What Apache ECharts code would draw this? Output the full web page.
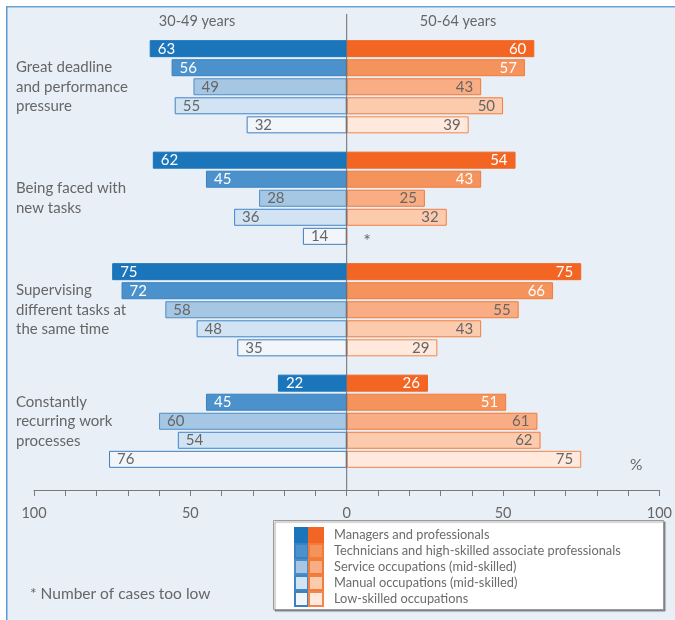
<!DOCTYPE html>
<html><head><meta charset="utf-8">
<script src="https://cdn.jsdelivr.net/npm/echarts@6/dist/echarts.min.js"></script>
<style>html,body{margin:0;padding:0;background:#fff}#c{width:675px;height:620px}</style>
</head><body><div id="c"></div>
<script>
// ---------- data ----------
const categories = [
  'Great deadline\nand performance\npressure',
  'Being faced with\nnew tasks',
  'Supervising\ndifferent tasks at\nthe same time',
  'Constantly\nrecurring work\nprocesses'
];
const occupations = [
  'Managers and professionals',
  'Technicians and high-skilled associate professionals',
  'Service occupations (mid-skilled)',
  'Manual occupations (mid-skilled)',
  'Low-skilled occupations'
];
const ageGroups = ['30-49 years', '50-64 years'];
// values per occupation, across the 4 categories
const managers3049    = [63, 62, 75, 22];
const technicians3049 = [56, 45, 72, 45];
const service3049     = [49, 28, 58, 60];
const manual3049      = [55, 36, 48, 54];
const low3049         = [32, 14, 35, 76];
const managers5064    = [60, 54, 75, 26];
const technicians5064 = [57, 43, 66, 51];
const service5064     = [43, 25, 55, 61];
const manual5064      = [50, 32, 43, 62];
const low5064         = [39, null, 29, 75];   // null = number of cases too low
const xTickLabels = [100, 50, 0, 50, 100];
const missingMark = '*';
const footnote = '* Number of cases too low';
const unitLabel = '%';

// ---------- styles ----------
const young = [managers3049, technicians3049, service3049, manual3049, low3049];
const older = [managers5064, technicians5064, service5064, manual5064, low5064];
const blueFill     = ['#1b75bb', '#4b91cb', '#a5c7e3', '#d2e3f3', '#f2f6fb'];
const blueBorder   = ['#1b75bb', '#3c80c0', '#4d8dc7', '#3f86c8', '#3f7fc0'];
const orangeFill   = ['#f26522', '#f5935c', '#f9ad84', '#fccbae', '#fee9dc'];
const orangeBorder = ['#f26522', '#f27b3a', '#f37a36', '#f27d3c', '#f2864b'];
const labelColors  = ['#ffffff', '#ffffff', '#666666', '#666666', '#666666'];
const FONT = 'Lato';
const TXT = '#666666';

const grid = {left: 34, right: 14, top: 31, height: 446};
const axisOffset = 13;

const series = [];
young.forEach((vals, i) => {
  series.push({
    type: 'bar', name: occupations[i] + ' (' + ageGroups[0] + ')', stack: 's' + i,
    stackStrategy: 'negative',
    barWidth: 17, barGap: '12%',
    data: vals.map(v => -v),
    itemStyle: {color: blueFill[i], borderColor: blueBorder[i], borderWidth: 1},
    label: {show: true, position: 'insideLeft', distance: 8, color: labelColors[i],
            fontSize: 15, fontFamily: FONT, formatter: p => Math.abs(p.value)},
    emphasis: {disabled: true}
  });
});
older.forEach((vals, i) => {
  series.push({
    type: 'bar', name: occupations[i], stack: 's' + i,
    stackStrategy: 'positive',
    barWidth: 17, barGap: '12%',
    data: vals.map(v => v == null ? {value: 0, label: {formatter: missingMark, position: 'right',
          distance: 16, color: TXT, fontSize: 18, offset: [0, 5]}} : v),
    itemStyle: {color: orangeFill[i], borderColor: orangeBorder[i], borderWidth: 1},
    label: {show: true, position: 'insideRight', distance: 8, color: labelColors[i],
            fontSize: 15, fontFamily: FONT, formatter: p => Math.abs(p.value)},
    emphasis: {disabled: true}
  });
});

const titleStyle = {fontSize: 14.5, fontWeight: 'normal', color: TXT, fontFamily: FONT};

const chart = echarts.init(document.getElementById('c'), null, {renderer: 'canvas'});
chart.setOption({
  animation: false,
  backgroundColor: '#e8eff7',
  textStyle: {fontFamily: FONT},
  title: [
    {text: ageGroups[0], left: 197, top: 14, textAlign: 'center', padding: 0, textStyle: titleStyle},
    {text: ageGroups[1], left: 458, top: 14, textAlign: 'center', padding: 0, textStyle: titleStyle},
    {text: unitLabel, left: 630, top: 457, padding: 0, textStyle: Object.assign({}, titleStyle, {fontSize: 15.5})},
    {text: footnote, left: 30, top: 586, padding: 0, textStyle: Object.assign({}, titleStyle, {fontSize: 15.5})}
  ],
  grid: grid,
  xAxis: {
    type: 'value', min: -100, max: 100, interval: 10, offset: axisOffset,
    axisLine: {show: true, lineStyle: {color: '#7a7a7a', width: 1}},
    axisTick: {show: true, length: 6, lineStyle: {color: '#7a7a7a'}},
    splitLine: {show: false},
    axisLabel: {color: TXT, fontSize: 14.5, fontFamily: FONT, margin: 16,
      formatter: v => {
        const idx = [-100, -50, 0, 50, 100].indexOf(v);
        return idx >= 0 ? String(xTickLabels[idx]) : '';
      }}
  },
  yAxis: {
    type: 'category', inverse: true, data: categories,
    axisLine: {show: false}, axisTick: {show: false}, splitLine: {show: false},
    axisLabel: {align: 'left', margin: 18, color: TXT, fontSize: 15, lineHeight: 19.5, fontFamily: FONT}
  },
  legend: [
    {orient: 'vertical', left: 294, top: 527, itemWidth: 13, itemHeight: 14, itemGap: 0,
     icon: 'rect', selectedMode: false, z: 10, padding: 0,
     data: series.slice(0, 5).map(s => s.name), formatter: () => '',
     textStyle: {fontSize: 12, lineHeight: 14}},
    {orient: 'vertical', left: 308, top: 527, itemWidth: 14, itemHeight: 14, itemGap: 0,
     icon: 'rect', selectedMode: false, z: 10, padding: 0,
     data: occupations,
     textStyle: {fontSize: 12.8, lineHeight: 14, color: '#6b6b6b', fontFamily: FONT, padding: [0, 0, 0, 6]}}
  ],
  series: series
});

const x0 = chart.convertToPixel({xAxisIndex: 0}, 0);
const axisY = grid.top + grid.height + axisOffset;
chart.setOption({
  graphic: [
    {type: 'rect', z: 1, shape: {x: 0, y: 0, width: 675, height: 6}, style: {fill: '#ffffff'}, silent: true},
    {type: 'rect', z: 1, shape: {x: 0, y: 0, width: 6, height: 620}, style: {fill: '#ffffff'}, silent: true},
    {type: 'rect', z: 1, shape: {x: 6, y: 6, width: 669, height: 1.5}, style: {fill: '#6fa3d6'}, silent: true},
    {type: 'rect', z: 1, shape: {x: 6, y: 6, width: 1.5, height: 614}, style: {fill: '#5b9bd5'}, silent: true},
    {type: 'rect', z: 1, shape: {x: 273.5, y: 520.5, width: 390, height: 89},
     style: {fill: '#ffffff', stroke: '#9a9a9a', lineWidth: 1,
             shadowColor: 'rgba(0,0,0,0.35)', shadowOffsetX: 1.5, shadowOffsetY: 1.5, shadowBlur: 1}, silent: true},
    {type: 'line', z: 100, shape: {x1: x0, y1: 14, x2: x0, y2: axisY},
     style: {stroke: '#6a6a6a', lineWidth: 1}, silent: true}
  ]
});
</script>
</body></html>
